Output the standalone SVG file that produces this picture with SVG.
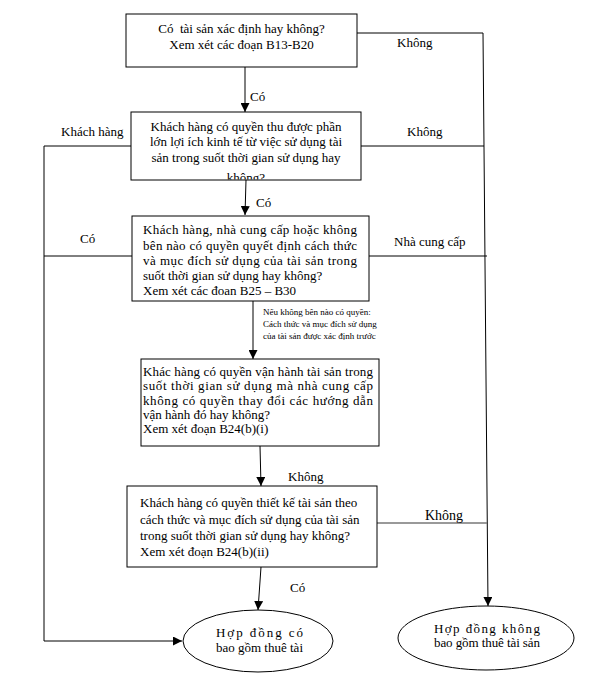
<svg xmlns="http://www.w3.org/2000/svg" width="596" height="678" viewBox="0 0 596 678">
<style>
.box{fill:#fff;stroke:#000;stroke-width:1}
.t{font-family:"Liberation Serif","Times New Roman",serif;font-size:13px;fill:#000}
.s{font-family:"Liberation Serif","Times New Roman",serif;font-size:9px;fill:#000}
.c{stroke:#000;stroke-width:1;fill:none}
</style>
<defs>
<marker id="ah" viewBox="0 0 10 10" refX="10" refY="5" markerWidth="9" markerHeight="9" markerUnits="userSpaceOnUse" orient="auto">
<path d="M0,0 L10,5 L0,10 z" fill="#000"/>
</marker>
<clipPath id="clip2"><rect x="131" y="112" width="230" height="67.5"/></clipPath>
</defs>
<rect width="596" height="678" fill="#fff"/>
<g id="connectors">
<line class="c" x1="245" y1="67" x2="245" y2="112" marker-end="url(#ah)"/>
<polyline class="c" points="357,33 483,33 488,606" marker-end="url(#ah)"/>
<polyline class="c" points="131,146 44,146 44,641 182,641" marker-end="url(#ah)"/>
<line class="c" x1="361" y1="146" x2="484" y2="146"/>
<line class="c" x1="246" y1="180" x2="245" y2="215" marker-end="url(#ah)"/>
<line class="c" x1="132" y1="256" x2="44" y2="256"/>
<line class="c" x1="369" y1="256" x2="487" y2="256"/>
<line class="c" x1="253" y1="301" x2="253" y2="359" marker-end="url(#ah)"/>
<line class="c" x1="260" y1="446" x2="261" y2="486" marker-end="url(#ah)"/>
<line x1="377" y1="523" x2="487" y2="523" stroke="#777" stroke-width="1.5"/>
<line class="c" x1="261" y1="567" x2="258" y2="610" marker-end="url(#ah)"/>
<text class="t" x="397" y="47">Không</text>
<text class="t" x="250" y="101">Có</text>
<text class="t" x="61" y="136">Khách hàng</text>
<text class="t" x="407" y="136">Không</text>
<text class="t" x="256" y="207">Có</text>
<text class="t" x="80" y="243">Có</text>
<text class="t" x="394" y="246">Nhà cung cấp</text>
<text class="s" x="263" y="315">Nếu không bên nào có quyền:</text>
<text class="s" x="263" y="327">Cách thức và mục đích sử dụng</text>
<text class="s" x="263" y="339">của tài sản được xác định trước</text>
<text class="t" x="288" y="481">Không</text>
<text class="t" x="425" y="520" style="font-size:14px">Không</text>
<text class="t" x="290" y="592">Có</text>
</g>
<g id="n1">
<rect class="box" x="126" y="14" width="231" height="53"/>
<text class="t" x="241.5" y="33" text-anchor="middle" xml:space="preserve">Có  tài sản xác định hay không?</text>
<text class="t" x="241.5" y="49" text-anchor="middle">Xem xét các đoạn B13-B20</text>
</g>
<g id="n2">
<rect x="131" y="112" width="230" height="68" fill="#fff"/>
<g clip-path="url(#clip2)">
<text class="t" x="246" y="131" text-anchor="middle">Khách hàng có quyền thu được phần</text>
<text class="t" x="246" y="146" text-anchor="middle">lớn lợi ích kinh tế từ việc sử dụng tài</text>
<text class="t" x="246" y="162" text-anchor="middle">sản trong suốt thời gian sử dụng hay</text>
<text class="t" x="246" y="182" text-anchor="middle">không?</text>
</g>
<rect x="131" y="112" width="230" height="68" fill="none" stroke="#000" stroke-width="1"/>
</g>
<g id="n3">
<rect class="box" x="132" y="216" width="237" height="85"/>
<text class="t" x="143" y="234" textLength="214" lengthAdjust="spacing">Khách hàng, nhà cung cấp hoặc không</text>
<text class="t" x="143" y="250" textLength="214" lengthAdjust="spacing">bên nào có quyền quyết định cách thức</text>
<text class="t" x="143" y="265" textLength="214" lengthAdjust="spacing">và mục đích sử dụng của tài sản trong</text>
<text class="t" x="143" y="280">suốt thời gian sử dụng hay không?</text>
<text class="t" x="143" y="295">Xem xét các đoan B25 – B30</text>
</g>
<g id="n4">
<rect class="box" x="141" y="359" width="238" height="87"/>
<text class="t" x="143" y="376" textLength="230" lengthAdjust="spacing">Khác hàng có quyền vận hành tài sản trong</text>
<text class="t" x="143" y="390" textLength="230" lengthAdjust="spacing">suốt thời gian sử dụng mà nhà cung cấp</text>
<text class="t" x="143" y="405" textLength="230" lengthAdjust="spacing">không có quyền thay đổi các hướng dẫn</text>
<text class="t" x="143" y="419">vận hành đó hay không?</text>
<text class="t" x="143" y="433">Xem xét đoạn B24(b)(i)</text>
</g>
<g id="n5">
<rect class="box" x="127" y="486" width="250" height="81"/>
<text class="t" x="140" y="507">Khách hàng có quyền thiết kế tài sản theo</text>
<text class="t" x="140" y="524">cách thức và mục đích sử dụng của tài sản</text>
<text class="t" x="140" y="540">trong suốt thời gian sử dụng hay không?</text>
<text class="t" x="140" y="556">Xem xét đoạn B24(b)(ii)</text>
</g>
<g id="n6">
<ellipse class="box" cx="258" cy="641" rx="75" ry="31"/>
<text class="t" x="216" y="637" textLength="87" lengthAdjust="spacing">Hợp đồng có</text>
<text class="t" x="216" y="652" textLength="87" lengthAdjust="spacing">bao gồm thuê tài</text>
</g>
<g id="n7">
<ellipse class="box" cx="486" cy="638" rx="88" ry="32"/>
<text class="t" x="434" y="633" textLength="106" lengthAdjust="spacing">Hợp đồng không</text>
<text class="t" x="434" y="647" textLength="106" lengthAdjust="spacing">bao gồm thuê tài sản</text>
</g>
</svg>
